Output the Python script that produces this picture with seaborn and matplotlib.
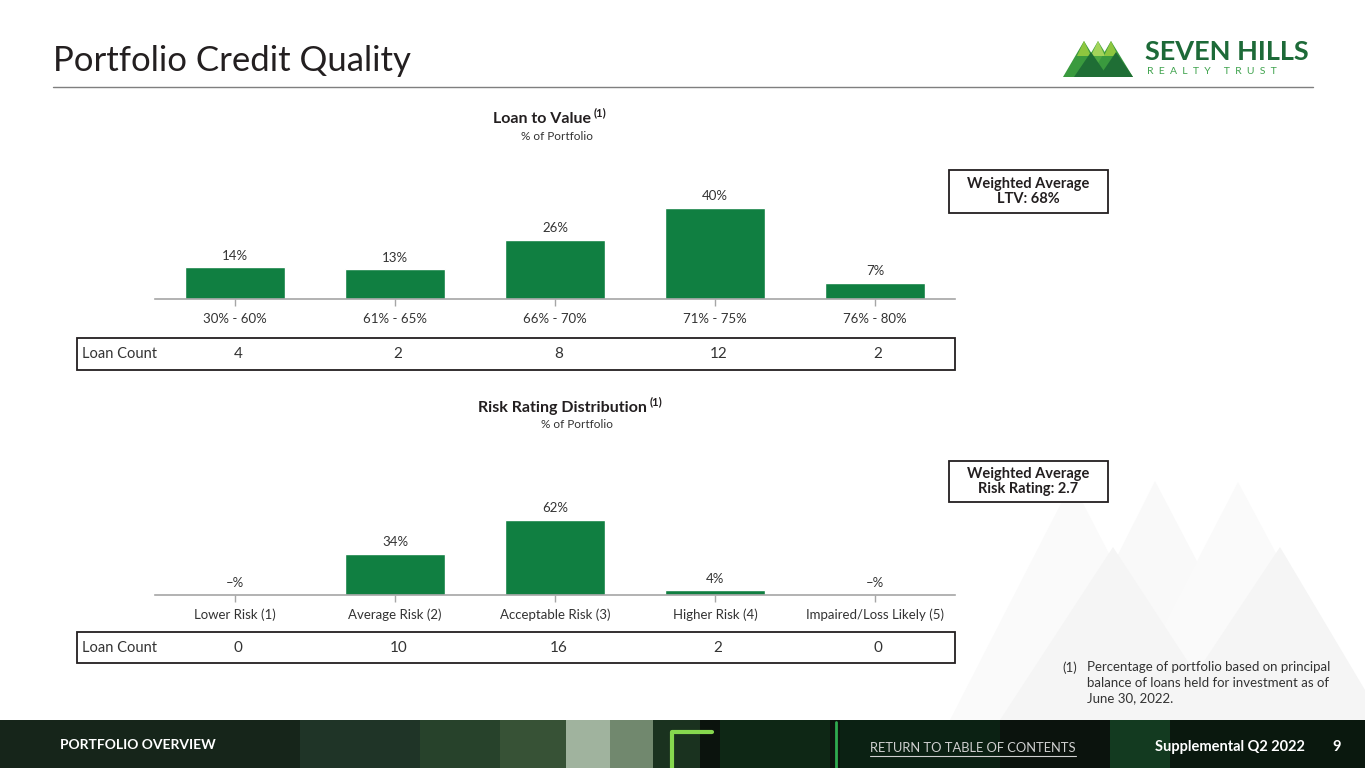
import matplotlib
matplotlib.use('Agg')
import matplotlib.pyplot as plt
import matplotlib.patches as mpatches
from matplotlib.lines import Line2D
from matplotlib.transforms import blended_transform_factory
import seaborn as sns
import pandas as pd

# chart data
ltv_bins = ['30% - 60%', '61% - 65%', '66% - 70%', '71% - 75%', '76% - 80%']
ltv_pct = [14, 13, 26, 40, 7]
ltv_counts = [4, 2, 8, 12, 2]

risk_bins = ['Lower Risk (1)', 'Average Risk (2)', 'Acceptable Risk (3)',
             'Higher Risk (4)', 'Impaired/Loss Likely (5)']
risk_pct = [0, 34, 62, 4, 0]
risk_counts = [0, 10, 16, 2, 0]

wavg_ltv = 'Weighted Average\nLTV: 68%'
wavg_risk = 'Weighted Average\nRisk Rating: 2.7'

GREEN = '#107F41'
DARK = '#231F20'
GRAY = '#A6A6A6'
W, H = 1365, 768

sns.set_style('white')
plt.rcParams['font.family'] = ['Lato', 'DejaVu Sans']


def fx(px):
    return px / W


def fy(py):
    return 1 - py / H


fig = plt.figure(figsize=(13.65, 7.68), dpi=100)
fig.patch.set_facecolor('white')

# faint mountains in the background (lower right)
for pts, col in [
    ([(950, 720), (1072, 482), (1195, 720)], '#FAFAFA'),
    ([(1035, 720), (1155, 481), (1280, 720)], '#F9F9F9'),
    ([(1115, 720), (1238, 482), (1365, 720)], '#FAFAFA'),
    ([(1000, 720), (1113, 547), (1226, 720)], '#F5F5F5'),
    ([(1165, 720), (1280, 547), (1365, 690), (1365, 720)], '#F5F5F5'),
]:
    fig.patches.append(mpatches.Polygon([(fx(x), fy(y)) for x, y in pts],
                                        closed=True, transform=fig.transFigure,
                                        fc=col, ec='none', zorder=0))

# header
fig.text(fx(53), fy(61), 'Portfolio Credit Quality', fontsize=25,
         color=DARK, va='center', ha='left')
fig.lines.append(Line2D([fx(53), fx(1313)], [fy(87), fy(87)],
                        transform=fig.transFigure, color='#7F7F7F', lw=1))

# logo
for pts, col in [
    ([(1063, 77), (1084, 41), (1106, 77)], '#3A9A3E'),
    ([(1077, 77), (1098, 41), (1120, 77)], '#4DA843'),
    ([(1090, 77), (1111, 41), (1133, 77)], '#3A9A3E'),
    ([(1077, 56), (1084, 41), (1091, 56)], '#8DC63F'),
    ([(1091, 56), (1098, 41), (1105, 56)], '#A3D45A'),
    ([(1104, 56), (1111, 41), (1118, 56)], '#8DC63F'),
    ([(1074, 77), (1091, 52), (1108, 77)], '#1F6E35'),
    ([(1099, 77), (1116, 52), (1133, 77)], '#1F6E35'),
]:
    fig.patches.append(mpatches.Polygon([(fx(x), fy(y)) for x, y in pts],
                                        closed=True, transform=fig.transFigure,
                                        fc=col, ec='none'))
fig.text(fx(1227), fy(52), 'SEVEN HILLS', fontsize=19.5, fontweight='bold',
         color='#1D6A38', ha='center', va='center')
fig.text(fx(1212), fy(72), 'R  E  A  L  T  Y     T  R  U  S  T', fontsize=7.5,
         color='#3FA34D', ha='center', va='center')


def bar_panel(ax, cats, vals, ymax):
    df = pd.DataFrame({'cat': cats, 'val': vals})
    sns.barplot(data=df, x='cat', y='val', ax=ax, color=GREEN,
                saturation=1, width=0.625)
    ax.set_xlim(-0.5, len(cats) - 0.5)
    ax.set_ylim(0, ymax)
    ax.set_xlabel('')
    ax.set_ylabel('')
    ax.set_yticks([])
    ax.patch.set_alpha(0)
    for s in ['top', 'left', 'right']:
        ax.spines[s].set_visible(False)
    ax.spines['bottom'].set_color(GRAY)
    ax.spines['bottom'].set_linewidth(1.2)
    ax.tick_params(axis='x', bottom=True, length=5, width=1, color=GRAY,
                   labelsize=9.5, labelcolor='#333333', pad=5)
    for i, v in enumerate(vals):
        lab = f'{v}%' if v > 0 else '\u2013%'
        ax.annotate(lab, (i, v), xytext=(0, 4), textcoords='offset points',
                    ha='center', va='bottom', fontsize=9.5, color='#333333')


def panel_title(title, sub, xc, ytitle, ysub):
    t = fig.text(fx(xc), fy(ytitle), title, fontsize=11.5, fontweight='bold',
                 color=DARK, ha='center', va='center')
    fig.canvas.draw()
    bb = t.get_window_extent()
    fig.text(bb.x1 / W + fx(3), fy(ytitle - 6), '(1)', fontsize=8,
             fontweight='bold', color=DARK, ha='left', va='center')
    fig.text(fx(xc + 15), fy(ysub), sub, fontsize=8.5, color='#333333',
             ha='center', va='center')


def count_row(ax, counts, top, bottom):
    fig.patches.append(mpatches.Rectangle((fx(77), fy(bottom)), fx(955) - fx(77),
                                          fy(top) - fy(bottom),
                                          transform=fig.transFigure, fill=False,
                                          lw=1.3, ec=DARK))
    mid = (top + bottom) / 2
    fig.text(fx(82), fy(mid), 'Loan Count', fontsize=10.5, color='#333333',
             ha='left', va='center')
    trans = blended_transform_factory(ax.transData, fig.transFigure)
    for i, c in enumerate(counts):
        ax.text(i + 0.02, fy(mid), str(c), transform=trans, ha='center',
                va='center', fontsize=11, color='#333333', clip_on=False)


def avg_box(text, left, top, right, bottom):
    fig.patches.append(mpatches.Rectangle((fx(left), fy(bottom)), fx(right) - fx(left),
                                          fy(top) - fy(bottom),
                                          transform=fig.transFigure, fc='white',
                                          lw=1.3, ec=DARK))
    fig.text(fx((left + right) / 2), fy((top + bottom) / 2), text, fontsize=10.5,
             fontweight='bold', color=DARK, ha='center', va='center',
             linespacing=1.15)


# Loan to Value panel
ax1 = fig.add_axes([fx(155), fy(299), fx(800), 114 / H])
bar_panel(ax1, ltv_bins, ltv_pct, 50)
panel_title('Loan to Value', '% of Portfolio', 542, 119, 137)
count_row(ax1, ltv_counts, 338, 370)
avg_box(wavg_ltv, 949, 170, 1108, 213)

# Risk Rating panel
ax2 = fig.add_axes([fx(155), fy(595), fx(800), 97 / H])
bar_panel(ax2, risk_bins, risk_pct, 80)
panel_title('Risk Rating Distribution', '% of Portfolio', 562, 408, 425)
count_row(ax2, risk_counts, 632, 663)
avg_box(wavg_risk, 949, 461, 1108, 502)

# footnote
fig.text(fx(1062), fy(668), '(1)', fontsize=9.5, color='#333333', ha='left', va='center')
fig.text(fx(1087), fy(661), 'Percentage of portfolio based on principal\n'
         'balance of loans held for investment as of\nJune 30, 2022.',
         fontsize=9.5, color='#333333', ha='left', va='top', linespacing=1.38)

# footer band
fig.patches.append(mpatches.Rectangle((0, 0), 1, fy(720), transform=fig.transFigure,
                                      fc='#0B130D', ec='none'))
for x0, x1, col, a in [
    (0, 300, '#18281C', 0.9),
    (300, 420, '#22382A', 0.9),
    (420, 500, '#2F4F33', 0.8),
    (500, 566, '#4A6E48', 0.7),
    (566, 610, '#C7DCC4', 0.8),
    (610, 653, '#9DBB98', 0.7),
    (653, 700, '#1E3A24', 0.8),
    (720, 830, '#0F2A17', 0.9),
    (840, 1000, '#0C2816', 0.7),
    (1110, 1170, '#1A5C30', 0.55),
    (1170, 1365, '#0A1A0F', 0.8),
]:
    fig.patches.append(mpatches.Rectangle((fx(x0), 0), fx(x1 - x0), fy(720),
                                          transform=fig.transFigure, fc=col,
                                          alpha=a, ec='none'))
fig.lines.append(Line2D([fx(672), fx(672), fx(712)], [0, fy(732), fy(732)],
                        transform=fig.transFigure, color='#86D84E', lw=3))
fig.lines.append(Line2D([fx(836), fx(836)], [0, fy(722)],
                        transform=fig.transFigure, color='#2FA84F', lw=2))

fig.text(fx(60), fy(745), 'PORTFOLIO OVERVIEW', fontsize=10, fontweight='bold',
         color='white', ha='left', va='center')
rt = fig.text(fx(870), fy(748), 'RETURN TO TABLE OF CONTENTS', fontsize=9.3,
              color='#D0D0D0', ha='left', va='center')
fig.canvas.draw()
rb = rt.get_window_extent()
fig.lines.append(Line2D([rb.x0 / W, rb.x1 / W], [fy(756), fy(756)],
                        transform=fig.transFigure, color='#D0D0D0', lw=0.8))
fig.text(fx(1305), fy(747), 'Supplemental Q2 2022', fontsize=10.5, fontweight='bold',
         color='white', ha='right', va='center')
fig.text(fx(1337), fy(747), '9', fontsize=10.5, fontweight='bold',
         color='white', ha='center', va='center')

fig.savefig('out.png', dpi=100)
